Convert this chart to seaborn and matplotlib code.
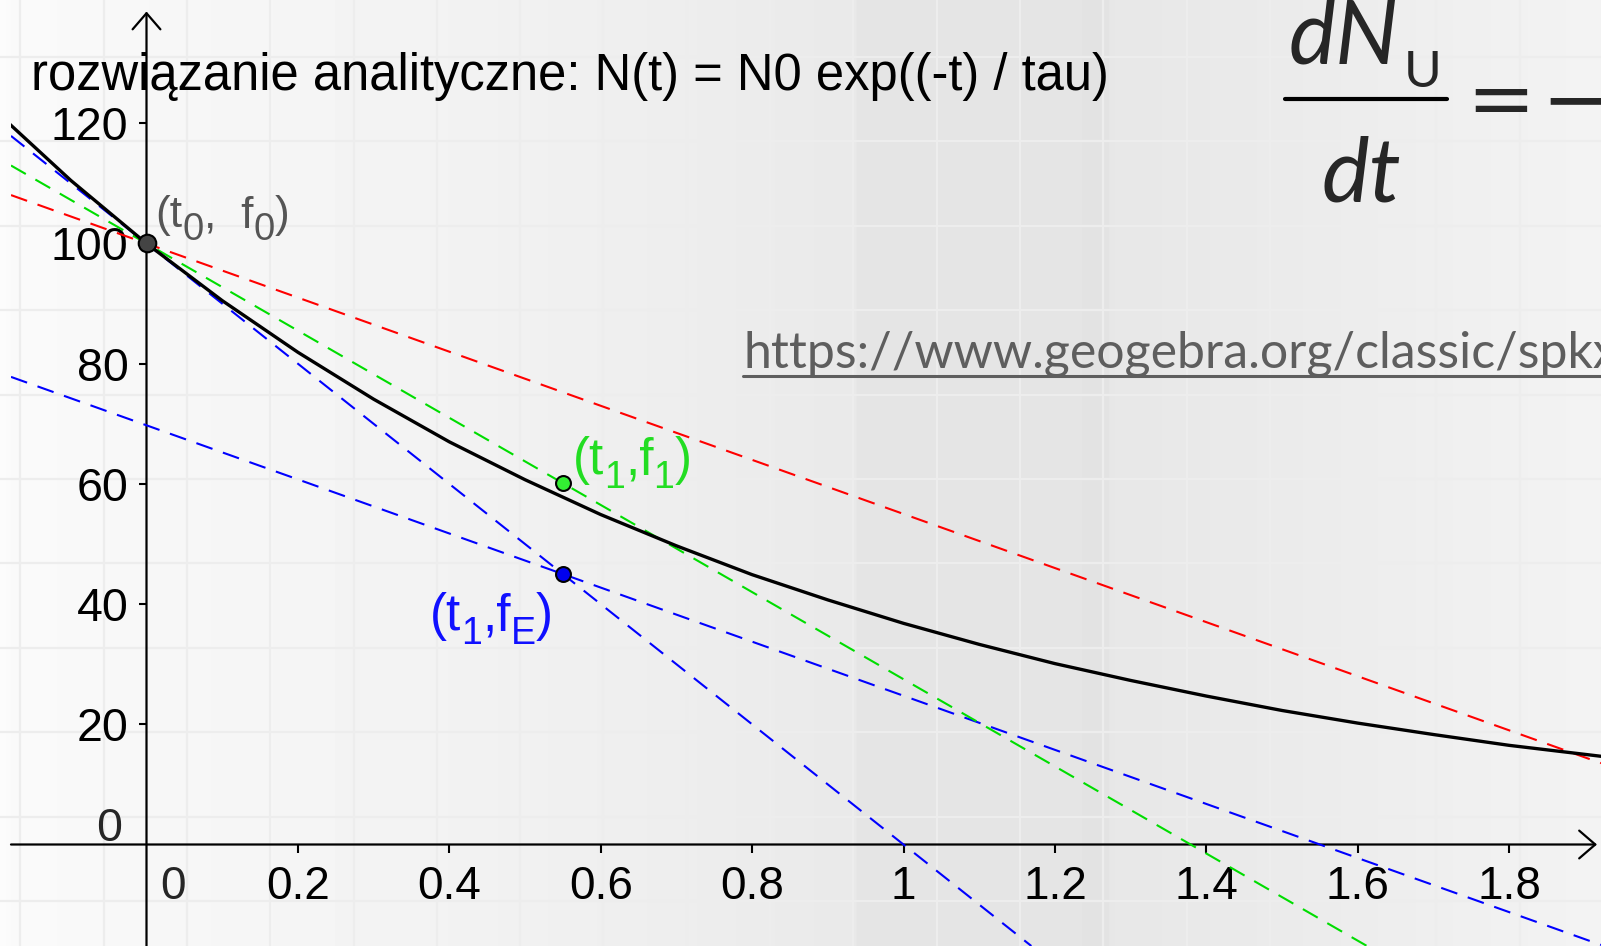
import numpy as np
import matplotlib
matplotlib.use("Agg")
import matplotlib.pyplot as plt
import seaborn as sns
from matplotlib.lines import Line2D

# analytic solution N(t) = N0 exp(-t / tau)
t_curve = [-0.2, -0.1, 0.0, 0.1, 0.2, 0.3, 0.4, 0.5, 0.6, 0.7, 0.8, 0.9, 1.0,
           1.1, 1.2, 1.3, 1.4, 1.5, 1.6, 1.7, 1.8, 1.9, 2.0]
n_curve = [122.1, 110.5, 100.0, 90.5, 81.9, 74.1, 67.0, 60.7, 54.9, 49.7, 44.9,
           40.7, 36.8, 33.3, 30.1, 27.3, 24.7, 22.3, 20.2, 18.3, 16.5, 15.0, 13.5]

# marked points: start, improved step, Euler step
pt_t = [0.0, 0.55, 0.55]
pt_f = [100.0, 60.1, 45.0]
# labels as (text, is_subscript) pieces
pt_names = [
    [("(t", 0), ("0", 1), (",  f", 0), ("0", 1), (")", 0)],
    [("(t", 0), ("1", 1), (",f", 0), ("1", 1), (")", 0)],
    [("(t", 0), ("1", 1), (",f", 0), ("E", 1), (")", 0)],
]

# dashed lines: anchor point and slope
line_t = [0.0, 0.55, 0.0, 0.0]
line_f = [100.0, 45.0, 100.0, 100.0]
line_slope = [-100.0, -45.0, -45.0, -72.5]

x_ticks = [0.2, 0.4, 0.6, 0.8, 1.0, 1.2, 1.4, 1.6, 1.8]
x_labels = ["0.2", "0.4", "0.6", "0.8", "1", "1.2", "1.4", "1.6", "1.8"]
y_ticks = [20, 40, 60, 80, 100, 120]
y_labels = ["20", "40", "60", "80", "100", "120"]

title = "rozwiązanie analityczne: N(t) = N0 exp((-t) / tau)"
url = "https://www.geogebra.org/classic/spkx"

# styles
line_colors = ["#0000ff", "#0000ff", "#ff0000", "#00dd00"]
pt_fill = ["#444444", "#33ee33", "#0000ee"]
pt_size = [160, 115, 115]
label_colors = ["#555555", "#22dd22", "#1010ff"]
# (size, sub size, sub drop px, dx px, dy px, ha)
label_layout = [(32, 27.5, 12, 9, 16, "left"),
                (37, 27, 14, 10, 9, "left"),
                (37, 27, 14, -10, -56, "right")]

sns.set_theme(style="white")
plt.rcParams["font.family"] = ["Liberation Sans", "DejaVu Sans"]

W, H = 1601, 946
fig = plt.figure(figsize=(W / 100, H / 100), dpi=100)


def px(x, y):
    return x / W, 1 - y / H


# --- slide background: grey gradient with a faint grid ---
bg = fig.add_axes([0, 0, 1, 1], zorder=0)
gx = [0, 11, 150, 400, 700, 855, 857, 1108, 1110, 1300, 1601]
gv = [252, 250, 247, 243, 237, 233, 229, 228, 231, 235, 243]
shade = np.interp(np.arange(W), gx, gv)[None, :]
bg.imshow(shade, extent=[0, W, H, 0], aspect="auto", cmap="gray", vmin=0, vmax=255)
for gxl in np.arange(20.4, W, 83.3):
    bg.axvline(gxl, color="#ededed", lw=1.6)
for gyl in np.arange(57, H, 84.4):
    bg.axhline(gyl, color="#ededed", lw=1.6)
bg.set_xlim(0, W)
bg.set_ylim(H, 0)
bg.axis("off")

# --- GeoGebra graphics view ---
x0_px, y0_px, sx, sy = 146.5, 844.5, 757.0, 6.01
ax = fig.add_axes([11 / W, 0, (W - 11) / W, 1], zorder=1)
ax.set_facecolor("none")
xmin = (11 - x0_px) / sx
ax.set_xlim(xmin, (W - x0_px) / sx)
ax.set_ylim(-(H - y0_px) / sy, y0_px / sy)

for t, f, s, c in zip(line_t, line_f, line_slope, line_colors):
    ax.axline((t, f), slope=s, color=c, lw=1.5, linestyle=(0, (8.2, 5.3)), zorder=2)

sns.lineplot(x=t_curve, y=n_curve, ax=ax, color="black", lw=2.4, sort=False, zorder=3)

for i in range(3):
    sns.scatterplot(x=[pt_t[i]], y=[pt_f[i]], ax=ax, s=pt_size[i], color=pt_fill[i],
                    edgecolor="black", linewidth=1.5, zorder=5)

# axes with arrow heads
for spine in ax.spines.values():
    spine.set_visible(False)
ax.spines["left"].set_position(("data", 0))
ax.spines["bottom"].set_position(("data", 0))
arrow = dict(arrowstyle="->,head_length=0.58,head_width=0.5", lw=1.6, color="black",
             shrinkA=0, shrinkB=0, mutation_scale=20)
ax.annotate("", xy=((1597 - x0_px) / sx, 0), xytext=(xmin, 0), arrowprops=arrow, zorder=1)
ax.annotate("", xy=(0, (y0_px - 11.5) / sy), xytext=(0, ax.get_ylim()[0]), arrowprops=arrow, zorder=1)

ax.set_xticks(x_ticks, x_labels)
ax.set_yticks(y_ticks, y_labels)
ax.tick_params(axis="x", direction="out", length=6, width=1.5, pad=9, labelsize=33,
               bottom=True, colors="black")
ax.tick_params(axis="y", direction="out", length=6, width=1.5, pad=7, labelsize=33.5,
               left=True, colors="black")
ax.annotate("0", xy=(0, 0), xytext=(26, -54), textcoords="offset pixels",
            ha="center", va="baseline", fontsize=33)
ax.annotate("0", xy=(0, 0), xytext=(-24, 4), textcoords="offset pixels",
            ha="right", va="baseline", fontsize=33.5)

# point labels with real subscripts
renderer = fig.canvas.get_renderer()
for i in range(3):
    size, sub_size, drop, dx, dy, ha = label_layout[i]
    pieces = []
    for s, is_sub in pt_names[i]:
        a = ax.annotate(s, xy=(pt_t[i], pt_f[i]), xytext=(0, 0), textcoords="offset pixels",
                        fontsize=sub_size if is_sub else size, color=label_colors[i],
                        va="baseline", ha="left", zorder=6)
        pieces.append((a, is_sub))
    widths = [a.get_window_extent(renderer).width for a, _ in pieces]
    x = dx if ha == "left" else dx - sum(widths)
    for (a, is_sub), w in zip(pieces, widths):
        a.xyann = (x, dy - drop if is_sub else dy)
        x += w

# title line
fig.text(*px(31, 90), title, fontsize=36.5, color="black", va="baseline", ha="left")

# link (runs off the right edge, as in the original slide)
fig.text(*px(743, 367), url, fontsize=36, color="#5e5e5e", va="baseline", ha="left",
         family="Lato")
fig.add_artist(Line2D([743 / W, 1], [1 - 376 / H] * 2, color="#5e5e5e", lw=2.2))

# formula dN_U / dt = -
fig.text(*px(1289, 63), "dN", fontsize=64, style="italic", family="Lato", va="baseline")
fig.text(*px(1404, 87), "U", fontsize=37, family="Lato", va="baseline")
fig.add_artist(Line2D([1285 / W, 1447 / W], [1 - 99 / H] * 2, color="black", lw=3))
fig.text(*px(1322, 202), "dt", fontsize=65, style="italic", family="Lato", va="baseline")
fig.text(*px(1466, 126), "=", fontsize=59, family="DejaVu Sans", va="baseline")
fig.text(*px(1541, 126), "\u2212", fontsize=59, family="DejaVu Sans", va="baseline")

fig.savefig("out.png", dpi=100)
